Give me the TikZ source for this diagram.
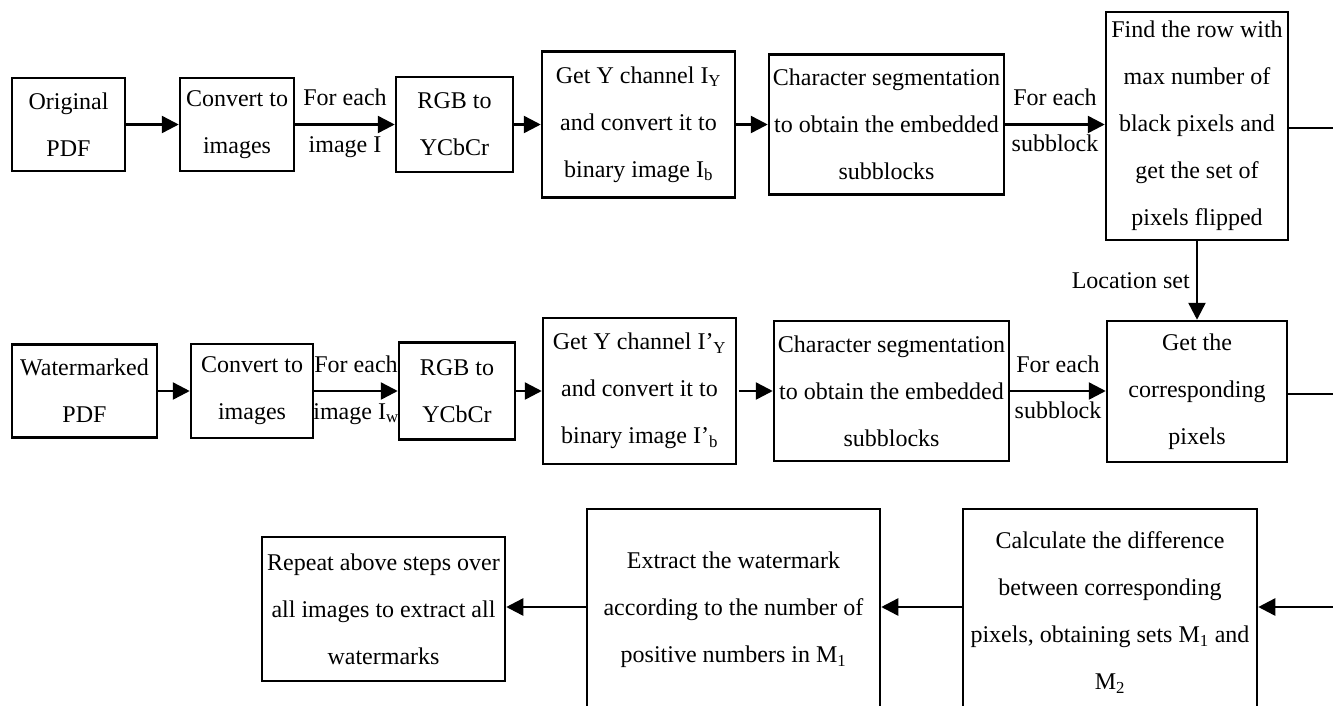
\documentclass[tikz,border=0pt]{standalone}
\usepackage{fontspec}
\setmainfont{Liberation Serif}
\usetikzlibrary{arrows.meta,calc}
\begin{document}
\begin{tikzpicture}[x=1pt,y=-1pt,
  box/.style={draw, line width=2.5pt, align=center, inner sep=1pt, font=\fontsize{24}{47}\selectfont},
  lbl/.style={font=\fontsize{24}{47}\selectfont, inner sep=0pt},
  arr/.style={line width=2.5pt, -{Triangle[length=17pt,width=17pt]}},
  ln/.style={line width=2.5pt}]
\useasboundingbox (0,0) rectangle (1333,705);
\clip (0,0) rectangle (1333,705);
% row 1
\node[box, minimum width=113pt, minimum height=93pt] (orig) at (68.5,124.5) {Original\\PDF};
\node[box, minimum width=114pt, minimum height=93pt] (conv1) at (237,124.5) {Convert to\\images};
\node[box, minimum width=117pt, minimum height=95pt] (rgb1) at (454.5,124.5) {RGB to\\YCbCr};
\node[box, minimum width=193pt, minimum height=146pt] (gety1) at (638.5,124.5) {Get Y channel I\textsubscript{Y}\\and convert it to\\binary image I\textsubscript{b}};
\node[box, minimum width=235pt, minimum height=140pt] (char1) at (886.5,124.5) {Character segmentation\\to obtain the embedded\\subblocks};
\node[box, minimum width=182pt, minimum height=228pt] (find) at (1197,126) {Find the row with\\max number of\\black pixels and\\get the set of\\pixels flipped};
% row 2
\node[box, minimum width=145pt, minimum height=93pt] (wm) at (84.5,391) {Watermarked\\PDF};
\node[box, minimum width=122pt, minimum height=94pt] (conv2) at (252,391) {Convert to\\images};
\node[box, minimum width=116pt, minimum height=97pt] (rgb2) at (457,391) {RGB to\\YCbCr};
\node[box, minimum width=193pt, minimum height=146pt] (gety2) at (639.5,391) {Get Y channel I’\textsubscript{Y}\\and convert it to\\binary image I’\textsubscript{b}};
\node[box, minimum width=235pt, minimum height=140pt] (char2) at (891.5,391) {Character segmentation\\to obtain the embedded\\subblocks};
\node[box, minimum width=180pt, minimum height=141pt] (get) at (1197,391.5) {Get the\\corresponding\\pixels};
% row 3
\node[box, minimum width=243pt, minimum height=144pt] (rep) at (383.5,609) {Repeat above steps over\\all images to extract all\\watermarks};
\node[box, minimum width=293pt, minimum height=202pt] (ext) at (733.5,610) {Extract the watermark\\according to the number of\\positive numbers in M\textsubscript{1}};
\node[box, minimum width=294pt, minimum height=207pt] (calc) at (1110,612.5) {Calculate the difference\\between corresponding\\pixels, obtaining sets M\textsubscript{1} and\\M\textsubscript{2}};
% coordinates at right edge
\coordinate (r1) at (1345,128);
\coordinate (r2) at (1345,394);
\coordinate (r3) at (1345,607);
% row 1 connectors
\draw[arr] (orig.east) -- (orig.east -| conv1.west);
\draw[arr] (conv1.east) -- (conv1.east -| rgb1.west)
  node[midway, lbl, anchor=base, yshift=19pt] {For each}
  node[midway, lbl, anchor=base, yshift=-28pt] {image I};
\draw[arr] (rgb1.east) -- (rgb1.east -| gety1.west);
\draw[arr] (gety1.east) -- (gety1.east -| char1.west);
\draw[arr] (char1.east) -- (char1.east -| find.west)
  node[midway, lbl, anchor=base, yshift=19pt] {For each}
  node[midway, lbl, anchor=base, yshift=-27pt] {subblock};
\draw[ln] (find.east |- r1) -- (r1);
\draw[arr] (find.south) -- (get.north)
  node[pos=0.5, lbl, anchor=base east, xshift=-6pt, yshift=-8pt] {Location set};
% row 2 connectors
\draw[arr] (wm.east) -- (wm.east -| conv2.west);
\draw[arr] (conv2.east) -- (conv2.east -| rgb2.west)
  node[midway, lbl, anchor=base, yshift=19pt] {For each}
  node[midway, lbl, anchor=base, yshift=-28pt] {image I\textsubscript{w}};
\draw[arr] (rgb2.east) -- (rgb2.east -| gety2.west);
\draw[arr] ([xshift=2pt]gety2.east) -- (gety2.east -| char2.west);
\draw[arr] (char2.east) -- (char2.east -| get.west)
  node[midway, lbl, anchor=base, yshift=19pt] {For each}
  node[midway, lbl, anchor=base, yshift=-27pt] {subblock};
\draw[ln] (get.east |- r2) -- (r2);
% row 3 connectors
\draw[arr] (r3) -- (r3 -| calc.east);
\draw[arr] (r3 -| calc.west) -- (r3 -| ext.east);
\draw[arr] (r3 -| ext.west) -- (r3 -| rep.east);
\end{tikzpicture}
\end{document}
